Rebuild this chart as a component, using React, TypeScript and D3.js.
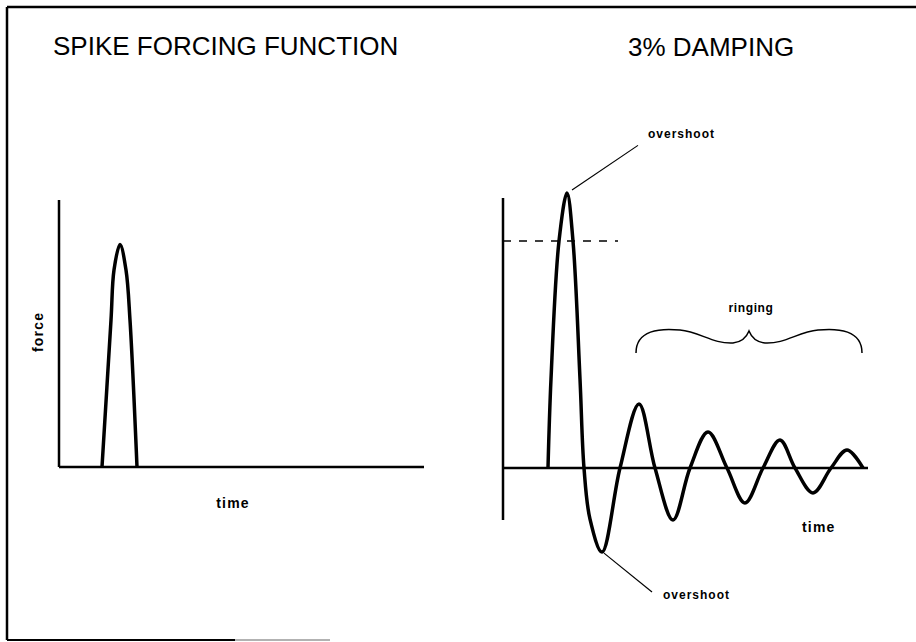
import React from 'react';
import * as d3 from 'd3';

// spike forcing function (left panel)
const forceTime = [43, 52, 55, 61, 67, 71, 78];
const forceValue = [0, 0.66, 0.885, 1.0, 0.885, 0.66, 0];

// response with 3% damping (right panel)
const respTime = [45, 48, 56, 64, 70, 77, 81, 87, 99, 117, 136, 152, 170, 187, 205, 224, 242, 260, 277, 292, 310, 328, 344, 360];
const respValue = [0, 0.4, 1.02, 1.236, 1.02, 0.4, 0, -0.23, -0.378, 0, 0.288, 0, -0.234, 0, 0.162, 0, -0.157, 0, 0.126, 0, -0.112, 0, 0.081, 0];

const forceLevel = 1.02;
const titles = ['SPIKE FORCING FUNCTION', '3% DAMPING'];

const W = 916;
const H = 642;
const font = '"Liberation Sans", Arial, Helvetica, sans-serif';

const App: React.FC = () => {
  const xL = d3.scaleLinear().domain([0, 365]).range([59, 424]);
  const yL = d3.scaleLinear().domain([0, 1]).range([467, 244.5]);
  const xR = d3.scaleLinear().domain([0, 365]).range([503, 868]);
  const yR = d3.scaleLinear().domain([0, 1]).range([468, 245.5]);

  const forcePts = forceTime.map((t, i) => [t, forceValue[i]] as [number, number]);
  const respPts = respTime.map((t, i) => [t, respValue[i]] as [number, number]);

  const lineL = d3
    .line<[number, number]>()
    .x((d) => xL(d[0]))
    .y((d) => yL(d[1]))
    .curve(d3.curveCatmullRom.alpha(0.5));
  const lineR = d3
    .line<[number, number]>()
    .x((d) => xR(d[0]))
    .y((d) => yR(d[1]))
    .curve(d3.curveCatmullRom.alpha(0.5));

  // overshoot points
  const peakIdx = d3.maxIndex(respValue);
  const troughIdx = d3.minIndex(respValue);
  const pk = [xR(respTime[peakIdx]), yR(respValue[peakIdx])];
  const tr = [xR(respTime[troughIdx]), yR(respValue[troughIdx])];

  // ringing brace
  const bx0 = xR(133);
  const bx1 = xR(359);
  const bm = (bx0 + bx1) / 2;
  const bEnd = yR(0.517);
  const bTop = yR(0.62);
  const bDip = bTop + 13;
  const brace = [
    `M${bx0},${bEnd}`,
    `C${bx0},${bTop} ${bx0 + 24},${bTop - 2} ${bx0 + 44},${bTop}`,
    `C${bx0 + 64},${bTop + 2} ${bm - 36},${bDip + 1} ${bm - 16},${bDip}`,
    `C${bm - 6},${bDip - 1} ${bm - 2},${bTop + 6} ${bm},${bTop + 1}`,
    `C${bm + 2},${bTop + 6} ${bm + 6},${bDip - 1} ${bm + 16},${bDip}`,
    `C${bm + 36},${bDip + 1} ${bx1 - 64},${bTop + 2} ${bx1 - 44},${bTop}`,
    `C${bx1 - 24},${bTop - 2} ${bx1},${bTop} ${bx1},${bEnd}`,
  ].join(' ');

  const labelStyle: React.CSSProperties = { fontFamily: font, fontWeight: 'bold' };

  return (
    <svg width={W} height={H} style={{ position: 'absolute', left: 0, top: 0, background: '#fff' }}>
      {/* frame */}
      <line x1={7} y1={7} x2={W} y2={7} stroke="#000" strokeWidth={2.5} />
      <line x1={7} y1={7} x2={7} y2={640} stroke="#000" strokeWidth={2.5} />
      <line x1={7} y1={640} x2={235} y2={640} stroke="#000" strokeWidth={2} />
      <line x1={235} y1={640} x2={330} y2={640} stroke="#999" strokeWidth={1.5} />

      {/* titles */}
      <text x={53} y={55} fontFamily={font} fontSize={26} fill="#000">{titles[0]}</text>
      <text x={628} y={56} fontFamily={font} fontSize={26} fill="#000">{titles[1]}</text>

      {/* left panel */}
      <line x1={xL(0)} y1={yL(1.2)} x2={xL(0)} y2={yL(0)} stroke="#000" strokeWidth={2.5} />
      <line x1={xL(0)} y1={yL(0)} x2={xL(365)} y2={yL(0)} stroke="#000" strokeWidth={2.5} />
      <path d={lineL(forcePts) || ''} fill="none" stroke="#000" strokeWidth={3.5} strokeLinejoin="round" />
      <text x={xL(174)} y={yL(-0.184)} textAnchor="middle" fontSize={14} letterSpacing={1.2} style={labelStyle}>time</text>
      <text
        transform={`translate(${xL(0) - 16},${yL(0.607)}) rotate(-90)`}
        textAnchor="middle"
        fontSize={14}
        letterSpacing={1.2}
        style={labelStyle}
      >
        force
      </text>

      {/* right panel */}
      <line x1={xR(0)} y1={yR(1.213)} x2={xR(0)} y2={yR(-0.234)} stroke="#000" strokeWidth={2.5} />
      <line x1={xR(0)} y1={yR(0)} x2={xR(365)} y2={yR(0)} stroke="#000" strokeWidth={2.5} />
      <line
        x1={xR(0)}
        y1={yR(forceLevel)}
        x2={xR(115)}
        y2={yR(forceLevel)}
        stroke="#000"
        strokeWidth={1.5}
        strokeDasharray="8,8"
      />
      <path d={lineR(respPts) || ''} fill="none" stroke="#000" strokeWidth={3.5} strokeLinejoin="round" />

      {/* annotations */}
      <line x1={pk[0] + 5} y1={pk[1] - 3} x2={xR(135)} y2={yR(1.45)} stroke="#000" strokeWidth={1.2} />
      <text x={xR(145)} y={yR(1.483)} fontSize={12} letterSpacing={1} style={labelStyle}>overshoot</text>
      <line x1={tr[0] + 2} y1={tr[1] + 1} x2={xR(149)} y2={yR(-0.557)} stroke="#000" strokeWidth={1.2} />
      <text x={xR(160)} y={yR(-0.589)} fontSize={12} letterSpacing={1} style={labelStyle}>overshoot</text>
      <text x={xR(248)} y={yR(0.70)} textAnchor="middle" fontSize={12} letterSpacing={0.6} style={labelStyle}>ringing</text>
      <path d={brace} fill="none" stroke="#000" strokeWidth={1.5} />
      <text x={xR(299)} y={yR(-0.288)} fontSize={14} letterSpacing={1.2} style={labelStyle}>time</text>
    </svg>
  );
};

export default App;
